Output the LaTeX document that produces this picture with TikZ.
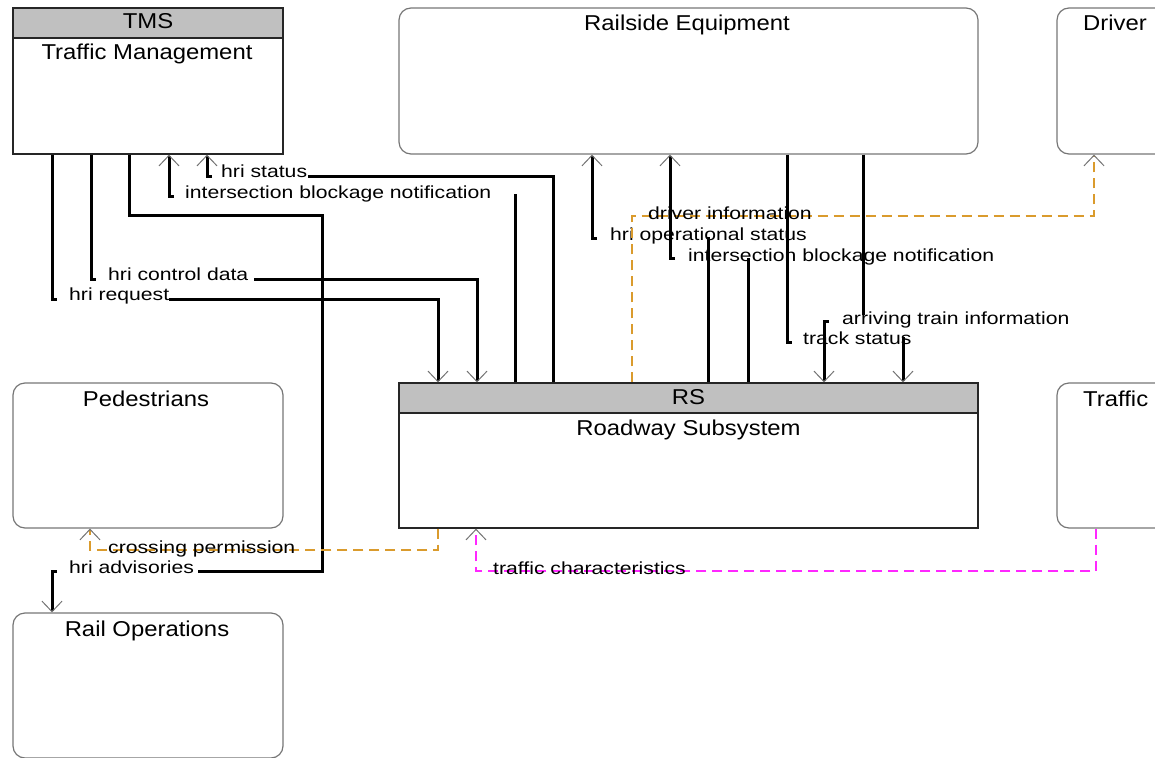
\documentclass[tikz,border=0pt]{standalone}
\usepackage{fontspec}
\setmainfont{Liberation Sans}
\newfontfamily\lblfont[FakeStretch=1.21]{Liberation Sans}
\newfontfamily\ttlfont[FakeStretch=1.11]{Liberation Sans}
\usetikzlibrary{arrows.meta}
\definecolor{hdrgray}{RGB}{192,192,192}
\definecolor{boxgray}{RGB}{118,118,118}
\definecolor{tipgray}{RGB}{115,115,115}
\definecolor{flowor}{RGB}{218,155,45}
\definecolor{flowmg}{RGB}{255,40,255}
\tikzset{
  sysbox/.style={draw=black!85, line width=1.3pt, inner sep=0pt},
  termbox/.style={draw=boxgray, line width=1.2pt, rounded corners=12pt, inner sep=0pt},
  ttl/.style={anchor=base, inner sep=0pt, font=\ttlfont\fontsize{21.5}{24}\selectfont},
  lbl/.style={anchor=base west, inner sep=0pt, font=\lblfont\fontsize{17.5}{20}\selectfont},
  arrowend/.style={-{Straight Barb[length=10.5pt,width=20pt,line width=1pt,color=tipgray]}},
  flow/.style={draw=black, line width=3pt},
  dflow/.style={line width=1.3pt, dash pattern=on 10pt off 6pt},
}
\begin{document}
\begin{tikzpicture}[x=1pt,y=-1pt]
\useasboundingbox (0,0) rectangle (1155,757);
\clip (0,0) rectangle (1155,757);
% headers
\fill[hdrgray] (13,8) rectangle (283,38);
\fill[hdrgray] (399,383) rectangle (978,413);
% boxes
\node[sysbox, minimum width=270pt, minimum height=146pt] (tms) at (148,81) {};
\draw[line width=1.3pt, draw=black!85] (tms.north west |- 0,38) -- (tms.north east |- 0,38);
\node[termbox, minimum width=579pt, minimum height=146pt] (railside) at (688.5,81) {};
\node[termbox, minimum width=270pt, minimum height=146pt] (driver) at (1192,81) {};
\node[termbox, minimum width=270pt, minimum height=145pt] (ped) at (148,455.5) {};
\node[sysbox, minimum width=579pt, minimum height=145pt] (rs) at (688.5,455.5) {};
\draw[line width=1.3pt, draw=black!85] (rs.north west |- 0,413) -- (rs.north east |- 0,413);
\node[termbox, minimum width=270pt, minimum height=145pt] (traffic) at (1192,455.5) {};
\node[termbox, minimum width=270pt, minimum height=145pt] (railops) at (148,685.5) {};
% titles
\node[ttl] (tmsid) at (148,28.5) {TMS};
\node[ttl] (tmsname) at (147,60) {Traffic Management};
\node[ttl] (railsidename) at (687,31) {Railside Equipment};
\node[ttl, anchor=base west] (drivername) at (1083,31) {Driver};
\node[ttl] (pedname) at (146,406) {Pedestrians};
\node[ttl] (rsid) at (688.5,404) {RS};
\node[ttl] (rsname) at (688.5,435) {Roadway Subsystem};
\node[ttl, anchor=base west] (trafficname) at (1083,406) {Traffic};
\node[ttl] (railopsname) at (147,636) {Rail Operations};
% hri request: TMS -> RS
\draw[flow] (52,0 |- tms.south) -- (52,299) -- (57,299);
\draw[flow, arrowend] (169,299) -- (438,299) -- (438,0 |- rs.north);
\node[lbl] (l1) at (69,300) {hri request};
% hri control data: TMS -> RS
\draw[flow] (91,0 |- tms.south) -- (91,279) -- (96,279);
\draw[flow, arrowend] (254,279) -- (477,279) -- (477,0 |- rs.north);
\node[lbl] (l2) at (108,280) {hri control data};
% hri advisories: TMS -> Rail Operations
\draw[flow] (129,0 |- tms.south) -- (129,215) -- (322,215) -- (322,571) -- (198,571);
\draw[flow, arrowend] (57,571) -- (52,571) -- (52,0 |- railops.north);
\node[lbl] (l3) at (69,573) {hri advisories};
% intersection blockage notification: RS -> TMS
\draw[flow] (515,0 |- rs.north) -- (515,194);
\draw[flow, arrowend] (174,196) -- (169,196) -- (169,0 |- tms.south);
\node[lbl] (l4) at (185,198) {intersection blockage notification};
% hri status: RS -> TMS
\draw[flow] (553,0 |- rs.north) -- (553,176) -- (308,176);
\draw[flow, arrowend] (212,176) -- (207,176) -- (207,0 |- tms.south);
\node[lbl] (l5) at (221,177) {hri status};
% hri operational status: RS -> Railside
\draw[flow] (708,0 |- rs.north) -- (708,237);
\draw[flow, arrowend] (597,238) -- (592,238) -- (592,0 |- railside.south);
\node[lbl] (l6) at (610,240) {hri operational status};
% intersection blockage notification: RS -> Railside
\draw[flow] (748,0 |- rs.north) -- (748,258);
\draw[flow, arrowend] (675,258) -- (670,258) -- (670,0 |- railside.south);
\node[lbl] (l7) at (688,261) {intersection blockage notification};
% driver information: RS -> Driver
\draw[dflow, draw=flowor, arrowend] (632,0 |- rs.north) -- (632,216) -- (1094,216) -- (1094,0 |- driver.south);
\node[lbl] (l8) at (648,219) {driver information};
% track status: Railside -> RS
\draw[flow] (787,0 |- railside.south) -- (787,342) -- (792,342);
\draw[flow, arrowend] (903,337) -- (903,0 |- rs.north);
\node[lbl] (l9) at (803,344) {track status};
% arriving train information: Railside -> RS
\draw[flow] (863,0 |- railside.south) -- (863,315);
\draw[flow, arrowend] (829,321) -- (824,321) -- (824,0 |- rs.north);
\node[lbl] (l10) at (842,324) {arriving train information};
% crossing permission: RS -> Pedestrians
\draw[dflow, draw=flowor, arrowend] (438,0 |- rs.south) -- (438,550) -- (90,550) -- (90,0 |- ped.south);
\node[lbl] (l11) at (108,553) {crossing permission};
% traffic characteristics: Traffic -> RS
\draw[dflow, draw=flowmg, arrowend] (1096,0 |- traffic.south) -- (1096,571) -- (476,571) -- (476,0 |- rs.south);
\node[lbl] (l12) at (493,574) {traffic characteristics};
\end{tikzpicture}
\end{document}
